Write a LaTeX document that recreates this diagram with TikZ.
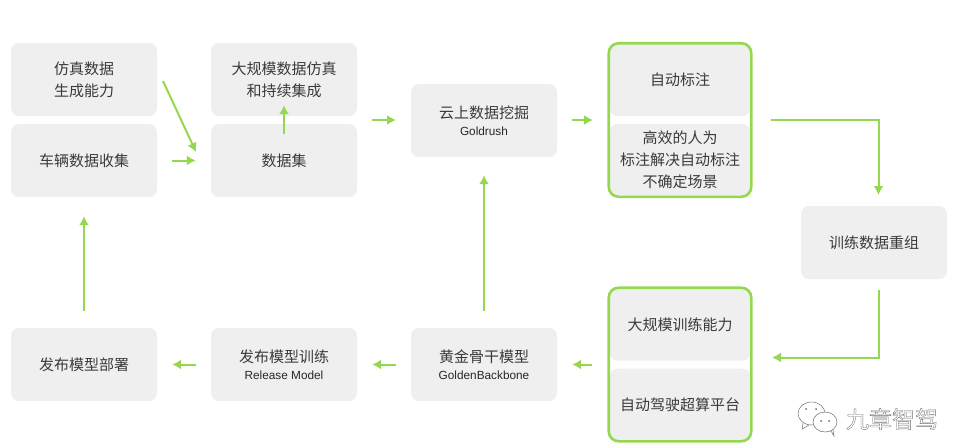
\documentclass[tikz,border=0pt]{standalone}
\usepackage{fontspec}
\setmainfont{Noto Sans CJK SC}
\newfontfamily\latinfont{Liberation Sans}
\usetikzlibrary{fit,arrows.meta}
\definecolor{boxgray}{HTML}{EFEFEF}
\definecolor{flowgreen}{HTML}{95D84F}
\definecolor{textgray}{HTML}{3A3A3A}
\definecolor{markgray}{HTML}{6E6E6E}
\tikzset{
    stagebox/.style={fill=boxgray,rounded corners=8pt,minimum width=146pt,minimum height=73pt,
        inner sep=0pt,align=center,text=textgray,font=\fontsize{15}{22}\selectfont},
    innerbox/.style={stagebox,minimum width=141pt,minimum height=72pt},
    groupbox/.style={draw=flowgreen,line width=2.6pt,rounded corners=10pt,inner sep=0.6pt},
    flow/.style={-{Latex[length=9pt,width=10pt]},draw=flowgreen,line width=2pt},
    gap/.style={shorten <=15pt,shorten >=15pt}
}
\newcommand{\sublabeltext}[1]{\\[-5pt]{\latinfont\fontsize{11.8}{13}\selectfont\color{black!85}#1}}
\newcommand{\hollowtext}[1]{\special{pdf:code 1 Tr 0.35 w}#1\special{pdf:code 0 Tr}}
\begin{document}
\begin{tikzpicture}[x=1pt,y=-1pt]
    \useasboundingbox (0,0) rectangle (965,447);
    % top rows
    \node[stagebox] (simgen) at (84,79.5) {仿真数据\\生成能力};
    \node[stagebox] (collect) at (84,160.5) {车辆数据收集};
    \node[stagebox] (largesim) at (284,79.5) {大规模数据仿真\\和持续集成};
    \node[stagebox] (dataset) at (284,160.5) {数据集};
    \node[stagebox] (goldrush) at (484,120.5) {云上数据挖掘\sublabeltext{Goldrush}};
    \node[innerbox] (autolabel) at (680,80) {自动标注};
    \node[innerbox] (humanlabel) at (680,160) {高效的人为\\标注解决自动标注\\不确定场景};
    \node[groupbox,fit=(autolabel)(humanlabel)] (labelgroup) {};
    \node[stagebox] (regroup) at (874,242.5) {训练数据重组};
    % bottom rows
    \node[innerbox] (largetrain) at (680,324.5) {大规模训练能力};
    \node[innerbox] (platform) at (680,404.5) {自动驾驶超算平台};
    \node[groupbox,fit=(largetrain)(platform)] (traingroup) {};
    \node[stagebox] (golden) at (484,364.5) {黄金骨干模型\sublabeltext{GoldenBackbone}};
    \node[stagebox] (release) at (284,364.5) {发布模型训练\sublabeltext{Release Model}};
    \node[stagebox] (deploy) at (84,364.5) {发布模型部署};
    % free ends of the connectors
    \coordinate (simout) at (163,81);
    \coordinate (setin) at (196,152);
    \coordinate (setout) at (357,120);
    \coordinate (minein) at (411,120);
    \coordinate (mineout) at (557,120);
    \coordinate (labelin) at (608,120);
    \coordinate (labelout) at (771,119.5);
    \coordinate (regroupin) at (878.5,195);
    \coordinate (regroupout) at (878.5,290);
    \coordinate (trainin) at (772,357.5);
    % connectors
    \draw[flow] (simout) -- (setin);
    \draw[flow,gap] (collect) -- (dataset);
    \draw[flow,shorten <=27pt,shorten >=-11pt] (dataset.center) -- (largesim.south);
    \draw[flow,gap] (setout) -- (minein);
    \draw[flow,gap] (mineout) -- (labelin);
    \draw[flow] (labelout) -| (regroupin);
    \draw[flow] (regroupout) |- (trainin);
    \draw[flow,gap] (traingroup.west |- golden.east) -- (golden.east);
    \draw[flow,gap] (golden) -- (release);
    \draw[flow,gap] (release) -- (deploy);
    \draw[flow,shorten <=17pt,shorten >=18pt] (golden.north) -- (goldrush.south);
    \draw[flow,shorten <=17pt,shorten >=19pt] (deploy.north) -- (collect.south);
    % watermark
    \draw[markgray,line width=0.5pt,fill=white] (811.5,413.5) ellipse [x radius=13.5pt,y radius=11.5pt];
    \draw[markgray,line width=0.5pt] (803,423) -- (802,429) -- (809,425);
    \draw[markgray,line width=0.5pt,fill=white] (825,422) ellipse [x radius=12pt,y radius=10pt];
    \draw[markgray,line width=0.5pt] (831,431) -- (834,436) -- (833,430);
    \fill[markgray] (806,409) circle (1pt) (816,409) circle (1pt) (821,421) circle (1pt) (829,421) circle (1pt);
    \node[text=markgray,font=\fontsize{23}{23}\selectfont,inner sep=0pt] (mark) at (892,419) {\hollowtext{九章智驾}};
\end{tikzpicture}
\end{document}
